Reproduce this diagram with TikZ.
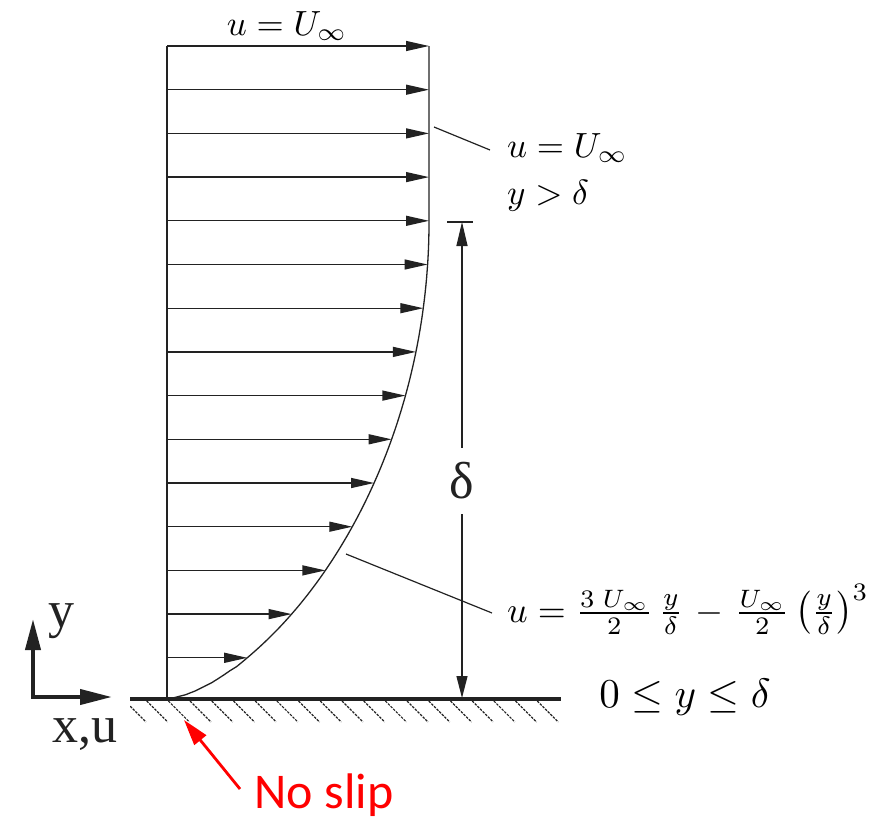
\documentclass[tikz,border=0pt]{standalone}
\usepackage{amsmath}
\usepackage{graphicx}
\usepackage{fontspec}
\newfontfamily\tnrfont{Liberation Serif}
\newfontfamily\carlfont{Carlito}
\usetikzlibrary{arrows.meta}
\definecolor{ink}{HTML}{222222}
\newcommand{\mymath}[2]{\scalebox{#1}{$#2$}}
\begin{document}
\begin{tikzpicture}[x=1pt,y=-1pt,
  vel/.style={line width=1.3pt, draw=ink, -{Triangle[length=23pt,width=10pt]}},
  prof/.style={line width=1.3pt, draw=ink},
  thin/.style={line width=1.2pt, draw=ink},
  dimline/.style={line width=1.3pt, draw=ink, {Triangle[length=24pt,width=11pt]}-{Triangle[length=22pt,width=11pt]}},
  axisline/.style={line width=4pt, draw=ink, line join=miter, {Triangle[length=31pt,width=15pt]}-{Triangle[length=32pt,width=15pt]}},
  redarrow/.style={line width=2.8pt, draw=red, -{Triangle[length=26pt,width=15pt]}},
  hatch/.style={line width=1.2pt, draw=ink, dash pattern=on 2.5pt off 1.2pt},
  mlabel/.style={inner sep=0pt, text=black},
  serlabel/.style={inner sep=0pt, text=ink, font=\tnrfont\fontsize{52}{56}\selectfont}
]
\useasboundingbox (0,0) rectangle (879,822);

% velocity profile
\coordinate (wall0) at (167,699);
\coordinate (top0) at (167,46);
\coordinate (edge) at (429,221);
\draw[prof] (top0) -- (wall0);
\foreach \i in {0,...,14}{
  \pgfmathsetmacro{\yy}{46+43.7*\i}
  \pgfmathsetmacro{\eta}{min(0.9999,(699-\yy)/478)}
  \pgfmathsetmacro{\xx}{167+262*(1-(1-\eta)^2)^0.659}
  \coordinate (s\i) at (167,\yy);
  \coordinate (e\i) at (\xx,\yy);
  \draw[vel] (s\i) -- (e\i);
}
\draw[prof] (wall0) -- plot[domain=0.0005:0.9999, samples=120] ({167+262*(1-(1-\x)^2)^0.659}, {699-478*\x}) -- (edge) -- (429,46);

% wall
\coordinate (wl) at (130,699);
\coordinate (wr) at (561,699);
\draw[line width=3.5pt, draw=ink] (wl) -- (wr);
\begin{scope}
  \clip (130,701) rectangle (561,726);
  \foreach \k in {-1,...,18}{
    \draw[hatch] ({146.7+21.7*\k},701) -- ({146.7+21.7*\k+21},722);
  }
\end{scope}

% boundary layer thickness
\coordinate (dtop) at (462,222);
\coordinate (dbot) at (462,698);
\coordinate (tickl) at (447,222);
\coordinate (tickr) at (473,222);
\draw[thin] (tickl) -- (tickr);
\draw[dimline] (dtop) -- (dbot);
\node[serlabel, fill=white, minimum height=66pt, minimum width=40pt] (dlab) at (462,481) {δ};

% labels
\node[mlabel, anchor=base] (topl) at (287,35) {\mymath{3.5}{u=U_\infty}};
\node[mlabel, anchor=base west] (lab1) at (507,157) {\mymath{3.5}{u=U_\infty}};
\node[mlabel, anchor=base west] (lab2) at (507,204) {\mymath{3.5}{y>\delta}};
\node[mlabel, anchor=base west] (lab3) at (507,622) {\mymath{3.6}{u=\frac{3\;U_\infty}{2}\,\frac{y}{\delta}\mkern2mu-\mkern2mu\frac{U_\infty}{2}\left(\frac{y}{\delta}\right)^{3}}};
\node[mlabel, anchor=base] (lab4) at (685,707) {\mymath{4.1}{0\leq y\leq \delta}};

% leader lines
\coordinate (c1) at (434,127);
\coordinate (l1) at (490,150);
\draw[thin] (c1) -- (l1);
\coordinate (c2) at (346,554);
\coordinate (l2) at (492,613);
\draw[thin] (c2) -- (l2);

% axes
\coordinate (orig) at (33,697);
\coordinate (ytip) at (33,619);
\coordinate (xtip) at (112,697);
\draw[axisline] (ytip) -- (orig) -- (xtip);
\node[serlabel, anchor=base] (ylab) at (61,627) {y};
\node[serlabel, anchor=base] (xlab) at (85,742) {x,u};

% no slip
\node[inner sep=0pt, text=red, font=\carlfont\fontsize{50}{54}\selectfont, anchor=base] (noslip) at (324,808) {No slip};
\coordinate (ns) at (240,789);
\coordinate (nt) at (184,720);
\draw[redarrow] (ns) -- (nt);
\end{tikzpicture}
\end{document}
